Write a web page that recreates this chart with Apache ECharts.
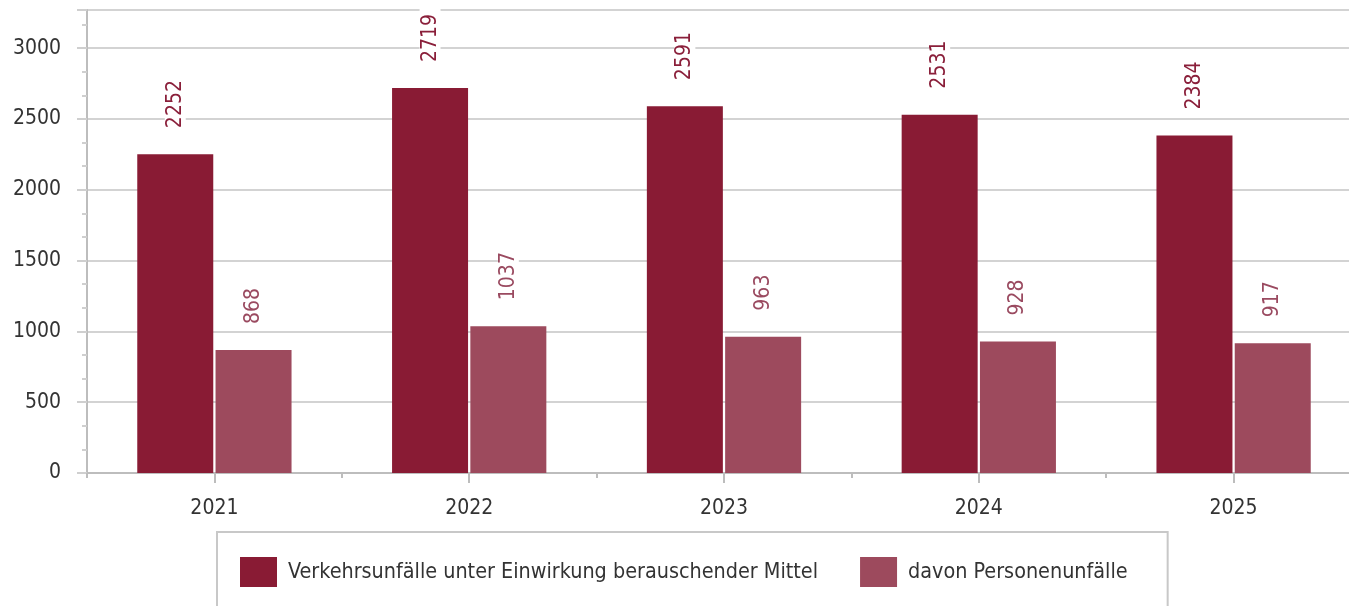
<!DOCTYPE html>
<html><head><meta charset="utf-8">
<script src="https://cdn.jsdelivr.net/npm/echarts@6/dist/echarts.min.js"></script>
<style>html,body{margin:0;padding:0;background:#fff}#c{width:1349px;height:606px}</style>
</head><body><div id="c"></div>
<script>
const categories = ['2021','2022','2023','2024','2025'];
const seriesNames = ['Verkehrsunfälle unter Einwirkung berauschender Mittel','davon Personenunfälle'];
const totalAccidents = [2252, 2719, 2591, 2531, 2384];
const personalInjury = [868, 1037, 963, 928, 917];
const yTicks = [0, 500, 1000, 1500, 2000, 2500, 3000];

const FONT = "'DejaVu Sans Condensed', 'Open Sans', sans-serif";
const chart = echarts.init(document.getElementById('c'), null, {renderer:'canvas'});
function lbl(color){
  return {show:true, position:'top', rotate:90, align:'left', verticalAlign:'middle',
    distance:20, color:color, fontFamily:FONT, fontSize:21, backgroundColor:'#fff', padding:[0,6]};
}
const gridBox = {left:87, width:1274, top:10, height:463, outerBoundsMode:'none', containLabel:false};
chart.setOption({
  backgroundColor:'#fff',
  animation:false,
  grid:[Object.assign({show:true, borderColor:'#cfcfcf', borderWidth:2}, gridBox)],
  legend:{left:217, top:532, itemWidth:37, itemHeight:30, itemGap:42, icon:'rect',
    padding:[25,40,25,23], borderColor:'#c8c8c8', borderWidth:2,
    textStyle:{fontFamily:FONT, fontSize:21.4, color:'#333', padding:[0,0,0,6]},
    data:seriesNames},
  xAxis:[{type:'category', data:categories, position:'bottom',
    axisLine:{show:true, onZero:false, lineStyle:{color:'#bdbdbd', width:2}},
    axisTick:{show:true, alignWithLabel:true, length:10, lineStyle:{color:'#bdbdbd', width:2}},
    axisLabel:{color:'#333', fontFamily:FONT, fontSize:21, margin:25}},
   {type:'category', data:categories, position:'bottom',
    axisLine:{show:true, onZero:false, lineStyle:{color:'#bdbdbd', width:2}}, axisLabel:{show:false}, splitLine:{show:false},
    axisTick:{show:true, alignWithLabel:false, length:5, lineStyle:{color:'#bdbdbd', width:2}}}],
  yAxis:[{type:'value', min:0, max:3270, interval:500,
    axisLine:{show:true, lineStyle:{color:'#bdbdbd', width:2}},
    axisTick:{show:true, inside:false, length:10, lineStyle:{color:'#cfcfcf', width:2}},
    minorTick:{show:true, splitNumber:3, length:5, lineStyle:{color:'#cfcfcf', width:2}},
    splitLine:{show:true, lineStyle:{color:'#d3d3d3', width:2}},
    axisLabel:{color:'#333', fontFamily:FONT, fontSize:21, margin:26,
      formatter:function(v){return yTicks.indexOf(v)>=0 ? String(v) : '';}}}],
  series:[
    {name:seriesNames[0], type:'bar', data:totalAccidents, barWidth:76, barGap:'3%',
     itemStyle:{color:'#891b34'}, label:lbl('#8a1f3a')},
    {name:seriesNames[1], type:'bar', data:personalInjury, barWidth:76, barGap:'3%',
     itemStyle:{color:'#9d4a5d'}, label:lbl('#9a4a60')},
    {name:'_ticks', type:'line', xAxisIndex:1, data:personalInjury,
     symbol:'none', silent:true, lineStyle:{opacity:0}, z:0}
  ]
});
</script></body></html>
